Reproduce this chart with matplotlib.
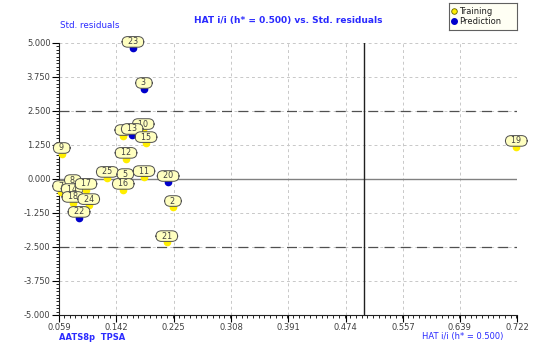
import numpy as np
import matplotlib
matplotlib.use("Agg")
import matplotlib.pyplot as plt
from matplotlib.ticker import MultipleLocator, FixedLocator

# Données (HAT i/i vs résidus standardisés)
ids = ["6", "7", "8", "14", "17", "18", "24", "22", "9", "25", "5", "16", "12",
       "10", "13", "15", "11", "20", "2", "21", "3", "23", "19"]
hat = [0.152, 0.062, 0.079, 0.078, 0.098, 0.079, 0.102, 0.088, 0.063, 0.129, 0.155,
       0.152, 0.156, 0.181, 0.165, 0.185, 0.182, 0.217, 0.224, 0.215, 0.182, 0.166, 0.721]
resid = [1.58, -0.48, -0.26, -0.59, -0.40, -0.88, -0.96, -1.43, 0.92, 0.04, -0.04,
         -0.40, 0.74, 1.80, 1.62, 1.32, 0.07, -0.11, -1.03, -2.32, 3.31, 4.82, 1.18]
groupe = ["T", "T", "T", "T", "T", "T", "T", "P", "T", "T", "T",
          "T", "T", "T", "P", "T", "T", "P", "T", "T", "P", "P", "T"]

xticks = [0.059, 0.142, 0.225, 0.308, 0.391, 0.474, 0.557, 0.639, 0.722]
yticks = [5.0, 3.75, 2.5, 1.25, 0.0, -1.25, -2.5, -3.75, -5.0]
h_star = 0.5

bleu = "#2a2aff"
gris = "#404040"

fig = plt.figure(figsize=(5.41, 3.55), dpi=100)
ax = fig.add_axes([59 / 541, 40 / 355, 458 / 541, 272 / 355])

ax.set_xlim(xticks[0], xticks[-1])
ax.set_ylim(-5, 5)

# Grille et lignes de référence
for v in xticks[1:]:
    ax.axvline(v, color="#c8c8c8", lw=0.7, ls=(0, (3, 3)), zorder=0)
for v in yticks[:-1]:
    ax.axhline(v, color="#c8c8c8", lw=0.7, ls=(0, (3, 3)), zorder=0)
ax.axhline(0, color="#808080", lw=1.0, zorder=1)
ax.axhline(2.5, color="#505050", lw=0.9, ls=(0, (8, 5)), zorder=1)
ax.axhline(-2.5, color="#505050", lw=0.9, ls=(0, (8, 5)), zorder=1)
ax.axvline(h_star, color="#202020", lw=1.0, zorder=1)

# Points et étiquettes
for i in range(len(ids)):
    c = "#ffee00" if groupe[i] == "T" else "#0000cc"
    ax.plot(hat[i], resid[i], "o", ms=4.5, mfc=c, mec=c, zorder=3 + 2 * i,
            clip_on=False)
    ax.annotate("  " + ids[i] + "  ", (hat[i], resid[i]), xytext=(0, 6),
                textcoords="offset pixels", ha="center", va="center", fontsize=5.8,
                color="#404040", zorder=4 + 2 * i, annotation_clip=False,
                bbox=dict(boxstyle="round,pad=0.1,rounding_size=0.7", fc="#ffffc0",
                          ec="#505050", lw=0.7))

# Axes
for s in ["top", "right"]:
    ax.spines[s].set_visible(False)
ax.spines["left"].set_color("#202020")
ax.spines["bottom"].set_color("#202020")
ax.xaxis.set_major_locator(FixedLocator(xticks))
ax.yaxis.set_major_locator(FixedLocator(yticks))
ax.xaxis.set_minor_locator(MultipleLocator(0.663 / 80))
ax.yaxis.set_minor_locator(MultipleLocator(0.125))
ax.set_xticklabels(["%.3f" % v for v in xticks])
ax.set_yticklabels(["%.3f" % v for v in yticks])
ax.tick_params(which="major", length=5, width=0.8, labelsize=6, labelcolor=gris, pad=1)
ax.tick_params(which="minor", length=2.5, width=0.6)

# Textes
fig.text(288 / 541, 1 - 20 / 355, "HAT i/i (h* = 0.500) vs. Std. residuals", ha="center",
         va="center", fontsize=6.5, fontweight="bold", color=bleu)
fig.text(60 / 541, 1 - 26 / 355, "Std. residuals", ha="left", va="center", fontsize=6.3, color=bleu)
fig.text(59 / 541, 1 - 337 / 355, "AATS8p  TPSA", ha="left", va="center", fontsize=6,
         fontweight="bold", color=bleu)
fig.text(503 / 541, 1 - 337 / 355, "HAT i/i (h* = 0.500)", ha="right", va="center",
         fontsize=6, color=bleu)

# Légende
leg_ax = fig.add_axes([449 / 541, 1 - 30 / 355, 68 / 541, 27 / 355])
leg_ax.set_xlim(0, 68)
leg_ax.set_ylim(27, 0)
leg_ax.set_xticks([])
leg_ax.set_yticks([])
leg_ax.set_facecolor("#fffff4")
for s in leg_ax.spines.values():
    s.set_color("#606060")
    s.set_linewidth(0.8)
leg_ax.plot(5, 8, "o", ms=4, mfc="#ffee00", mec="#606000", mew=0.6)
leg_ax.plot(5, 18, "o", ms=4, mfc="#0000cc", mec="#0000cc")
leg_ax.text(10, 8, "Training", va="center", fontsize=6, color="#202020")
leg_ax.text(10, 18, "Prediction", va="center", fontsize=6, color="#202020")

fig.savefig("out.png", dpi=100)
